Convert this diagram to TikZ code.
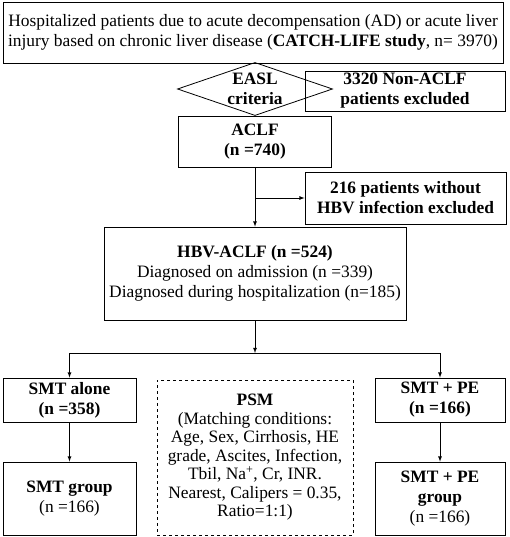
\documentclass[tikz,border=0pt]{standalone}
\usepackage{fontspec}
\setmainfont{Liberation Serif}
\usepackage{tikz}
\usetikzlibrary{shapes, calc}

\begin{document}
\begin{tikzpicture}[x=1pt, y=-1pt, >=latex, line width=0.8pt]
	\def \fs {\fontsize{17.4}{20}\selectfont}
	\tikzset{
		box/.style={draw, rectangle, align=center, inner sep=0pt, font=\fs},
		boldbox/.style={box, font=\fs\bfseries}
	}
	\useasboundingbox (0,0) rectangle (510,537);

	\node[box, minimum width=500pt, minimum height=61pt] (cohort) at (253,32.5)
		{Hospitalized patients due to acute decompensation (AD) or acute liver\\
		 injury based on chronic liver disease (\textbf{CATCH-LIFE study}, n= 3970)};
	\node[boldbox, draw=none, minimum width=154pt, minimum height=52pt] (easl) at (255,89)
		{EASL\\criteria};
	\node[boldbox, minimum width=200pt, minimum height=40pt] (nonaclf) at (405,91)
		{3320 Non-ACLF\\patients excluded};
	\node[boldbox, minimum width=153pt, minimum height=51pt] (aclf) at (255,141.5)
		{ACLF\\(n =740)};
	\node[boldbox, minimum width=201pt, minimum height=52pt] (nohbv) at (405.5,198)
		{216 patients without\\HBV infection excluded};
	\node[box, minimum width=302pt, minimum height=93pt] (hbv) at (255,273.5)
		{\textbf{HBV-ACLF (n =524)}\\Diagnosed on admission (n =339)\\
		 Diagnosed during hospitalization (n=185)};

	\node[boldbox, minimum width=133pt, minimum height=44pt] (smtalone) at (69.5,400)
		{SMT alone\\(n =358)};
	\node[box, minimum width=133pt, minimum height=73pt] (smtgroup) at (69.5,498.5)
		{\textbf{SMT group}\\(n =166)};
	\node[box, dashed, minimum width=196pt, minimum height=155pt,
		font=\fontsize{17.4}{18.5}\selectfont] (psm) at (255,457.5)
		{\textbf{PSM}\\(Matching conditions:\\Age, Sex, Cirrhosis, HE\\
		 grade, Ascites, Infection,\\Tbil, Na\textsuperscript{+}, Cr, INR.\\
		 Nearest, Calipers = 0.35,\\Ratio=1:1)};
	\node[boldbox, minimum width=130pt, minimum height=44pt] (smtpe) at (440,400)
		{SMT + PE\\(n =166)};
	\node[box, minimum width=130pt, minimum height=73pt] (pegroup) at (440,498.5)
		{\textbf{SMT + PE}\\\textbf{group}\\(n =166)};

	% diamond drawn round the criteria node
	\draw (easl.north) -- (easl.east) -- (easl.south) -- (easl.west) -- cycle;

	\coordinate (branch) at (aclf.south |- nohbv.west);
	\coordinate (split) at (255,353);

	\draw[->] (aclf.south) -- (hbv.north);
	\draw[->] (branch) -- (nohbv.west);
	\draw[->] (hbv.south) -- (split);
	\draw[->] (split) -| (smtalone.north);
	\draw[->] (split) -| (smtpe.north);
	\draw[->] (smtalone.south) -- (smtgroup.north);
	\draw[->] (smtpe.south) -- (pegroup.north);
\end{tikzpicture}
\end{document}
